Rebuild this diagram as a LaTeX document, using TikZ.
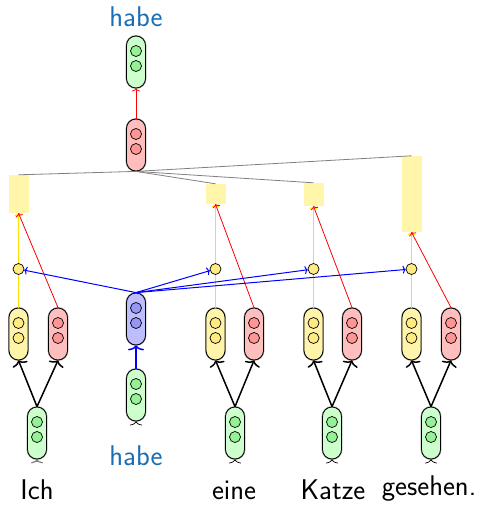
\documentclass[tikz,border=0pt]{standalone}
\usetikzlibrary{arrows.meta}
\definecolor{gfill}{RGB}{204,255,204}
\definecolor{gdot}{RGB}{150,240,150}
\definecolor{rfill}{RGB}{255,190,190}
\definecolor{rdot}{RGB}{255,150,150}
\definecolor{yfill}{RGB}{255,245,170}
\definecolor{ydot}{RGB}{255,235,130}
\definecolor{bfill}{RGB}{190,190,255}
\definecolor{bdot}{RGB}{150,150,245}
\definecolor{wordblue}{RGB}{25,110,180}
\definecolor{rectyellow}{RGB}{255,246,170}
\definecolor{lineyellow}{RGB}{255,225,0}
\newcommand\capsule[5]{%
  \node[cell, fill=#4] (#1) at (#2,#3+26) {};
  \draw[fill=#5, line width=0.7pt] (#2,#3+15) circle[radius=5.5];
  \draw[fill=#5, line width=0.7pt] (#2,#3+30) circle[radius=5.5];
}
\begin{document}
\begin{tikzpicture}[x=1pt,y=-1pt,
  cell/.style={rectangle, rounded corners=9.5pt, minimum width=19pt, minimum height=52pt, draw=black, line width=0.8pt, inner sep=0pt, preaction={draw=black!40, line width=1.8pt}},
  slot/.style={rectangle, fill=rectyellow, inner sep=0pt},
  knot/.style={circle, draw=black, fill=ydot, line width=0.7pt, minimum size=11pt, inner sep=0pt},
  word/.style={font=\sffamily\fontsize{28.5}{32}\selectfont, anchor=base, inner sep=0pt},
  bword/.style={word, text=wordblue},
  small/.style={-{To[length=3pt,width=8pt]}},
  big/.style={-{To[length=5pt,width=16pt]}, line width=1.5pt},
  tip/.style={-{To[length=4pt,width=12pt]}, line width=0.7pt}
]
\useasboundingbox (0,0) rectangle (483,505);

% slots
\node[slot, minimum width=20pt, minimum height=38pt] (r1) at (18.5,194) {};
\node[slot, minimum width=20pt, minimum height=20pt] (r2) at (215.5,194) {};
\node[slot, minimum width=20pt, minimum height=23pt] (r3) at (313.5,194.5) {};
\node[slot, minimum width=20pt, minimum height=76pt] (r4) at (411.5,194) {};

% capsules
\capsule{tg}{136}{36}{gfill}{gdot}
\capsule{tr}{136}{119}{rfill}{rdot}
\capsule{b}{136}{293}{bfill}{bdot}
\capsule{gm}{136}{369}{gfill}{gdot}
\capsule{y1}{18.5}{308}{yfill}{ydot}
\capsule{x1}{58}{308}{rfill}{rdot}
\capsule{y2}{215.5}{308}{yfill}{ydot}
\capsule{x2}{254}{308}{rfill}{rdot}
\capsule{y3}{313.5}{308}{yfill}{ydot}
\capsule{x3}{352}{308}{rfill}{rdot}
\capsule{y4}{411.5}{308}{yfill}{ydot}
\capsule{x4}{451}{308}{rfill}{rdot}
\capsule{g1}{37}{407}{gfill}{gdot}
\capsule{g2}{235}{407}{gfill}{gdot}
\capsule{g3}{332}{407}{gfill}{gdot}
\capsule{g4}{431}{407}{gfill}{gdot}

% knots
\node[knot] (s1) at (18.5,269) {};
\node[knot] (s2) at (215.5,269) {};
\node[knot] (s3) at (313.5,269) {};
\node[knot] (s4) at (411.5,269) {};

% gray lines
\foreach \r in {r1,r2,r3,r4}
  \draw[gray, line width=0.8pt] (tr.south) -- (\r.north);

% top red arrow
\draw[red, small, line width=0.8pt] (tr.north) -- (tg.south);

% yellow and red into slots
\foreach \i in {1,2,3,4} {
  \draw[lineyellow, line width=1.3pt] (y\i.north) -- (s\i.south);
  \draw[lineyellow, small, line width=1.3pt] (s\i.north) -- (r\i.south);
  \draw[red, small, line width=0.8pt] (x\i.north) -- (r\i.south);
}

% blue lines
\foreach \i in {1,2,3,4}
  \draw[blue, small, line width=1pt] (b.north) -- (s\i);
\draw[blue, big] (gm.north) -- (b.south);

% black arrows
\foreach \i in {1,2,3,4} {
  \draw[black, big] (g\i.north) -- (y\i.south);
  \draw[black, big] (g\i.north) -- (x\i.south);
}

% tips below word capsules
\coordinate (t1) at (37,460.5);
\coordinate (t2) at (235,460.5);
\coordinate (t3) at (332,460.5);
\coordinate (t4) at (431,460.5);
\coordinate (tm) at (136,422.5);
\draw[gray, tip, line width=1.2pt] (t1) -- (g1.south);
\draw[black, tip] (t2) -- (g2.south);
\draw[black, tip] (t3) -- (g3.south);
\draw[black, tip] (t4) -- (g4.south);
\draw[black, tip] (tm) -- (gm.south);

% texts
\node[bword] (h1) at (136,27) {habe};
\node[bword] (h2) at (136,465) {habe};
\node[word] (w1) at (37,499) {Ich};
\node[word] (w2) at (234,499) {eine};
\node[word] (w3) at (333,499) {Katze};
\node[word] (w4) at (429,495) {gesehen.};
\end{tikzpicture}
\end{document}
